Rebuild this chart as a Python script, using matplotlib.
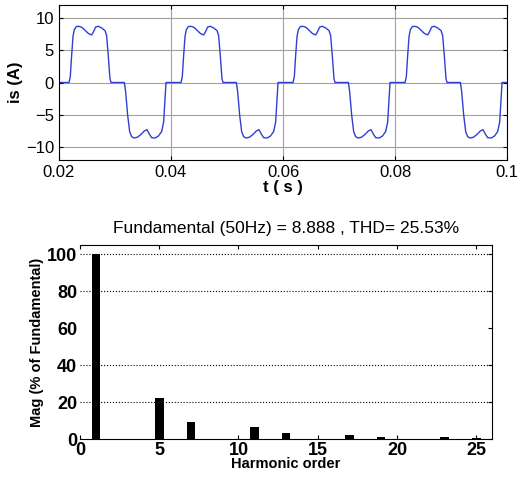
import numpy as np
import matplotlib
matplotlib.use("Agg")
import matplotlib.pyplot as plt

plt.rcParams['font.family'] = ['Liberation Sans', 'DejaVu Sans']

# one period of the source current (offset from period start in s, amps)
pos_t = [0.0, 0.00179, 0.00202, 0.00226, 0.0025, 0.00274, 0.0031, 0.00357, 0.00405, 0.00464,
         0.00524, 0.00583, 0.00619, 0.00655, 0.00702, 0.00762, 0.00821, 0.0085, 0.0088,
         0.0091, 0.00929]
pos_i = [0.0, 0.0, 0.9, 4.2, 7.1, 8.2, 8.66, 8.7, 8.56, 8.1,
         7.6, 7.37, 7.9, 8.6, 8.7, 8.45, 8.04, 7.3, 4.2,
         0.6, 0.0]
neg_t = [0.01167, 0.0119, 0.01226, 0.01262, 0.01298, 0.01345, 0.01405, 0.01464, 0.01524,
         0.01571, 0.01607, 0.01655, 0.01714, 0.01774, 0.01833, 0.01869, 0.01893, 0.01911]
neg_i = [0.0, -1.4, -5.05, -7.6, -8.4, -8.6, -8.45, -8.04, -7.5,
         -7.3, -7.9, -8.55, -8.6, -8.3, -7.6, -6.1, -2.5, 0.0]
period_starts = [0.02, 0.04, 0.06, 0.08]
t_end = 0.1

# harmonic spectrum
orders = [1, 5, 7, 11, 13, 17, 19, 23, 25]
mags = [100, 22.2, 9.2, 6.6, 3.4, 2.2, 1.3, 1.0, 0.6]
grid_levels = [20, 40, 80, 100]
title_txt = 'Fundamental (50Hz) = 8.888 , THD= 25.53%'

# build waveform
cycle_t = pos_t + neg_t
cycle_i = pos_i + neg_i
t = []
i_s = []
for t0 in period_starts:
    t += [t0 + x for x in cycle_t]
    i_s += cycle_i
t.append(t_end)
i_s.append(0.0)

fig = plt.figure(figsize=(5.21, 4.92), dpi=100)

# top: time waveform
ax1 = fig.add_axes([0.1132, 0.6748, 0.86, 0.315])
ax1.plot(t, i_s, color='#2f3fd0', linewidth=1.0)
ax1.set_xlim(0.02, 0.1)
ax1.set_ylim(-12, 12)
ax1.set_xticks([0.02, 0.04, 0.06, 0.08, 0.1])
ax1.set_xticklabels(['0.02', '0.04', '0.06', '0.08', '0.1'])
ax1.set_yticks([-10, -5, 0, 5, 10])
ax1.grid(True, color='#a0a0a0', linewidth=0.8)
ax1.tick_params(direction='in', top=True, right=True, labelsize=12, length=3)
ax1.set_xlabel('t ( s )', fontsize=12, fontweight='bold', labelpad=0)
ax1.set_ylabel('is (A)', fontsize=12, fontweight='bold', labelpad=2)

# bottom: harmonic spectrum
ax2 = fig.add_axes([0.1536, 0.1077, 0.7908, 0.3943])
ax2.bar(orders, mags, width=0.55, color='black')
for g in grid_levels:
    ax2.axhline(g, color='black', linestyle=':', linewidth=0.8, zorder=0)
ax2.set_xlim(0, 26)
ax2.set_ylim(0, 105)
ax2.set_xticks([0, 5, 10, 15, 20, 25])
ax2.set_yticks([0, 20, 40, 60, 80, 100])
ax2.spines['left'].set_visible(False)
ax2.tick_params(direction='in', top=True, right=True, left=False, labelsize=13, length=3,
                pad=2)
for lab in ax2.get_xticklabels() + ax2.get_yticklabels():
    lab.set_fontweight('bold')
ax2.set_title(title_txt, fontsize=12.5, pad=9)
ax2.set_xlabel('Harmonic order', fontsize=10.5, fontweight='bold', labelpad=-1)
ax2.set_ylabel('Mag (% of Fundamental)', fontsize=10.5, fontweight='bold', labelpad=2)

fig.savefig('out.png', dpi=100)
